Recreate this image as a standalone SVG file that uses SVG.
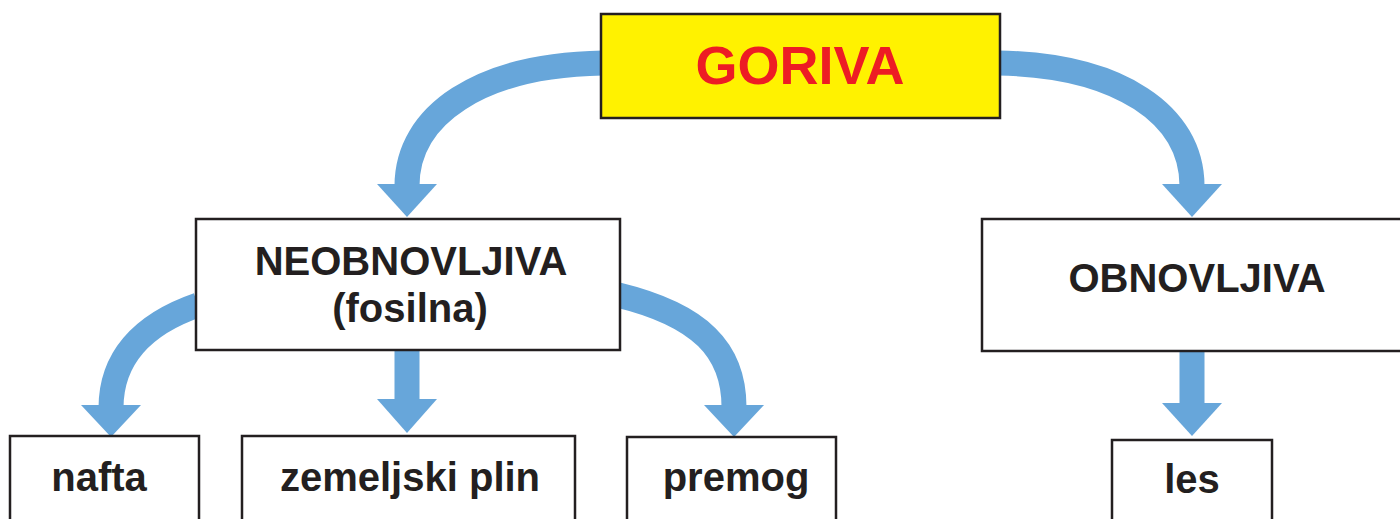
<svg xmlns="http://www.w3.org/2000/svg" width="1400" height="519" viewBox="0 0 1400 519">
<style>
.box{fill:#ffffff;stroke:#231f20;stroke-width:2.5}
.t{font-family:"Liberation Sans",Arial,sans-serif;font-weight:bold;font-size:40px;fill:#231f20;text-anchor:middle}
.band{fill:none;stroke:#67a6da;stroke-width:25}
.head{fill:#67a6da}
</style>
<rect width="1400" height="519" fill="#ffffff"/>
<g id="connectors">
<path class="band" d="M603,63 C480,65 407,115 407,186"/>
<polygon class="head" points="377,184 437,184 407,217"/>
<path class="band" d="M998,63 C1120,65 1192,115 1192,186"/>
<polygon class="head" points="1162,184 1222,184 1192,217"/>
<path class="band" d="M198,305 C140,325 111,360 111,408"/>
<polygon class="head" points="81,405 141,405 111,437"/>
<path class="band" d="M618,295 C700,315 734,350 734,407"/>
<polygon class="head" points="704,405 764,405 734,437"/>
<path class="band" d="M407,350 L407,401"/>
<polygon class="head" points="377,399 437,399 407,433"/>
<path class="band" d="M1192,350 L1192,405"/>
<polygon class="head" points="1162,403 1222,403 1192,436"/>
</g>
<g id="goriva">
<rect x="601" y="14" width="399" height="104" fill="#fff200" stroke="#231f20" stroke-width="2.5"/>
<text x="800" y="84" style="font-family:'Liberation Sans',Arial,sans-serif;font-weight:bold;font-size:54px;fill:#ed1c24;text-anchor:middle">GORIVA</text>
</g>
<g id="neobnovljiva">
<rect class="box" x="196" y="219" width="424" height="131"/>
<text class="t" x="411" y="275">NEOBNOVLJIVA</text>
<text class="t" x="410" y="322">(fosilna)</text>
</g>
<g id="obnovljiva">
<rect class="box" x="982" y="219" width="440" height="132"/>
<text class="t" x="1197" y="292">OBNOVLJIVA</text>
</g>
<g id="nafta">
<rect class="box" x="10" y="436" width="189" height="100"/>
<text class="t" x="99" y="491">nafta</text>
</g>
<g id="zemeljski">
<rect class="box" x="242" y="436" width="333" height="100"/>
<text class="t" x="410" y="491">zemeljski plin</text>
</g>
<g id="premog">
<rect class="box" x="627" y="437" width="209" height="100"/>
<text class="t" x="736" y="491">premog</text>
</g>
<g id="les">
<rect class="box" x="1112" y="440" width="160" height="100"/>
<text class="t" x="1192" y="493">les</text>
</g>
</svg>
